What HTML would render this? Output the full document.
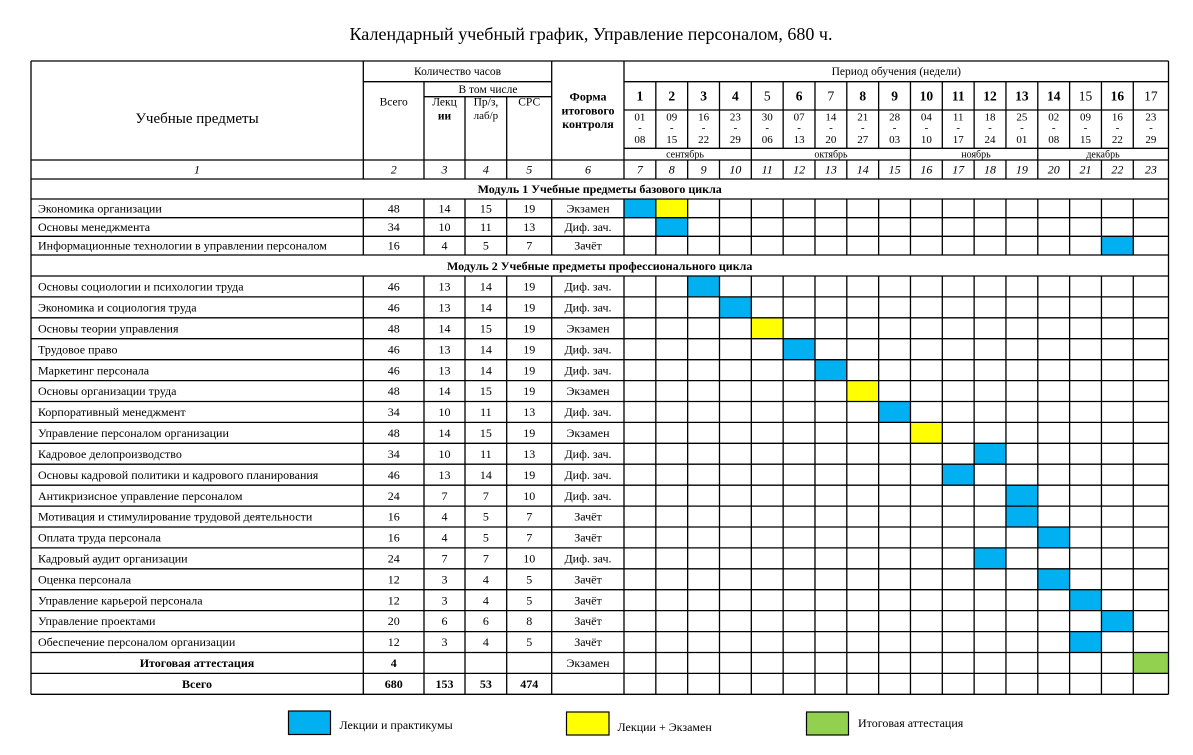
<!DOCTYPE html>
<html><head><meta charset="utf-8"><style>
html,body{margin:0;padding:0;background:#fff;width:1193px;height:755px;overflow:hidden}
svg{display:block}
text{font-family:"Liberation Serif","DejaVu Serif",serif;fill:#000}
.c{text-anchor:middle}
.s{font-size:12px}
.h{font-size:11.5px}
.b{font-weight:bold}
.i{font-style:italic}
.d{font-size:11px;text-anchor:middle}
.m{font-size:10px;text-anchor:middle}
.w{font-size:13.5px;text-anchor:middle;font-weight:bold}
.wn{font-size:13.5px;text-anchor:middle}
</style></head><body>
<svg width="1193" height="755" viewBox="0 0 1193 755" xmlns="http://www.w3.org/2000/svg">
<rect width="1193" height="755" fill="#fff"/>
<text x="591" y="40" class="c" style="font-size:18px" textLength="483" lengthAdjust="spacingAndGlyphs">Календарный учебный график, Управление персоналом, 680 ч.</text>

<g>
<rect x="624" y="199" width="31.83" height="18.7" fill="#00B0F0"/>
<rect x="655.83" y="199" width="31.83" height="18.7" fill="#FFFF00"/>
<rect x="655.83" y="217.7" width="31.83" height="18.6" fill="#00B0F0"/>
<rect x="1101.45" y="236.3" width="31.83" height="18.7" fill="#00B0F0"/>
<rect x="687.66" y="276" width="31.83" height="20.9" fill="#00B0F0"/>
<rect x="719.49" y="296.9" width="31.83" height="20.9" fill="#00B0F0"/>
<rect x="751.32" y="317.8" width="31.83" height="20.9" fill="#FFFF00"/>
<rect x="783.15" y="338.7" width="31.83" height="21" fill="#00B0F0"/>
<rect x="814.98" y="359.7" width="31.83" height="20.9" fill="#00B0F0"/>
<rect x="846.81" y="380.6" width="31.83" height="20.9" fill="#FFFF00"/>
<rect x="878.64" y="401.5" width="31.83" height="20.9" fill="#00B0F0"/>
<rect x="910.47" y="422.4" width="31.83" height="20.9" fill="#FFFF00"/>
<rect x="974.13" y="443.3" width="31.83" height="20.9" fill="#00B0F0"/>
<rect x="942.3" y="464.2" width="31.83" height="21" fill="#00B0F0"/>
<rect x="1005.96" y="485.2" width="31.83" height="20.9" fill="#00B0F0"/>
<rect x="1005.96" y="506.1" width="31.83" height="20.9" fill="#00B0F0"/>
<rect x="1037.79" y="527" width="31.83" height="20.9" fill="#00B0F0"/>
<rect x="974.13" y="547.9" width="31.83" height="20.9" fill="#00B0F0"/>
<rect x="1037.79" y="568.8" width="31.83" height="20.9" fill="#00B0F0"/>
<rect x="1069.62" y="589.7" width="31.83" height="20.9" fill="#00B0F0"/>
<rect x="1101.45" y="610.6" width="31.83" height="21" fill="#00B0F0"/>
<rect x="1069.62" y="631.6" width="31.83" height="20.9" fill="#00B0F0"/>
<rect x="1133.28" y="652.5" width="35.22" height="20.9" fill="#92D050"/>
</g>

<g stroke="#000" stroke-width="1.3" fill="none">
<path d="M31 61H1168.5 M363.3 81.7H551.7 M624 81.7H1168.5 M424 96.7H551.7 M624 110H1168.5 M624 148.3H1168.5 M31 160H1168.5 M31 179H1168.5 M31 199H1168.5 M31 217.7H1168.5 M31 236.3H1168.5 M31 255H1168.5 M31 276H1168.5 M31 296.9H1168.5 M31 317.8H1168.5 M31 338.7H1168.5 M31 359.7H1168.5 M31 380.6H1168.5 M31 401.5H1168.5 M31 422.4H1168.5 M31 443.3H1168.5 M31 464.2H1168.5 M31 485.2H1168.5 M31 506.1H1168.5 M31 527H1168.5 M31 547.9H1168.5 M31 568.8H1168.5 M31 589.7H1168.5 M31 610.6H1168.5 M31 631.6H1168.5 M31 652.5H1168.5 M31 673.4H1168.5 M31 694.3H1168.5"/>
<path d="M31 61V694.3 M1168.5 61V694.3"/>
<path d="M363.3 61V179 M424 81.7V179 M465 96.7V179 M506.7 96.7V179 M551.7 61V179 M624 61V179"/>
<path d="M655.83 81.7V148.3 M687.66 81.7V148.3 M719.49 81.7V148.3 M751.32 81.7V160 M783.15 81.7V148.3 M814.98 81.7V148.3 M846.81 81.7V148.3 M878.64 81.7V148.3 M910.47 81.7V160 M942.3 81.7V148.3 M974.13 81.7V148.3 M1005.96 81.7V148.3 M1037.79 81.7V160 M1069.62 81.7V148.3 M1101.45 81.7V148.3 M1133.28 81.7V148.3"/>
<path d="M655.83 160V179 M687.66 160V179 M719.49 160V179 M751.32 160V179 M783.15 160V179 M814.98 160V179 M846.81 160V179 M878.64 160V179 M910.47 160V179 M942.3 160V179 M974.13 160V179 M1005.96 160V179 M1037.79 160V179 M1069.62 160V179 M1101.45 160V179 M1133.28 160V179"/>
<path d="M363.3 199V255 M424 199V255 M465 199V255 M506.7 199V255 M551.7 199V255 M624 199V255 M655.83 199V255 M687.66 199V255 M719.49 199V255 M751.32 199V255 M783.15 199V255 M814.98 199V255 M846.81 199V255 M878.64 199V255 M910.47 199V255 M942.3 199V255 M974.13 199V255 M1005.96 199V255 M1037.79 199V255 M1069.62 199V255 M1101.45 199V255 M1133.28 199V255"/>
<path d="M363.3 276V694.3 M424 276V694.3 M465 276V694.3 M506.7 276V694.3 M551.7 276V694.3 M624 276V694.3 M655.83 276V694.3 M687.66 276V694.3 M719.49 276V694.3 M751.32 276V694.3 M783.15 276V694.3 M814.98 276V694.3 M846.81 276V694.3 M878.64 276V694.3 M910.47 276V694.3 M942.3 276V694.3 M974.13 276V694.3 M1005.96 276V694.3 M1037.79 276V694.3 M1069.62 276V694.3 M1101.45 276V694.3 M1133.28 276V694.3"/>
</g>

<text x="197" y="123" class="c" style="font-size:15px">Учебные предметы</text>
<text x="457.5" y="75" class="c h">Количество часов</text>
<text x="393.7" y="105.5" class="c h">Всего</text>
<text x="488" y="93" class="c h">В том числе</text>
<text x="444.5" y="105.5" class="c h">Лекц</text>
<text x="444.5" y="119.5" class="c h b">ии</text>
<text x="485.9" y="105.5" class="c h">Пр/з,</text>
<text x="485.9" y="119" class="c" style="font-size:11px">лаб/р</text>
<text x="529.2" y="105.5" class="c h">СРС</text>
<text x="588" y="100.5" class="c s b">Форма</text>
<text x="588" y="114.5" class="c s b">итогового</text>
<text x="588" y="128" class="c s b">контроля</text>
<text x="896.3" y="75" class="c h">Период обучения (недели)</text>

<text x="639.9" y="100.5" class="w">1</text>
<text x="671.7" y="100.5" class="w">2</text>
<text x="703.6" y="100.5" class="w">3</text>
<text x="735.4" y="100.5" class="w">4</text>
<text x="767.2" y="100.5" class="wn">5</text>
<text x="799.1" y="100.5" class="w">6</text>
<text x="830.9" y="100.5" class="wn">7</text>
<text x="862.7" y="100.5" class="w">8</text>
<text x="894.6" y="100.5" class="w">9</text>
<text x="926.4" y="100.5" class="w">10</text>
<text x="958.2" y="100.5" class="w">11</text>
<text x="990.0" y="100.5" class="w">12</text>
<text x="1021.9" y="100.5" class="w">13</text>
<text x="1053.7" y="100.5" class="w">14</text>
<text x="1085.5" y="100.5" class="wn">15</text>
<text x="1117.4" y="100.5" class="w">16</text>
<text x="1150.9" y="100.5" class="wn">17</text>

<g class="d">
<text x="639.9" y="120.5" class="d">01</text><text x="639.9" y="131" class="d">-</text><text x="639.9" y="143" class="d">08</text>
<text x="671.7" y="120.5" class="d">09</text><text x="671.7" y="131" class="d">-</text><text x="671.7" y="143" class="d">15</text>
<text x="703.6" y="120.5" class="d">16</text><text x="703.6" y="131" class="d">-</text><text x="703.6" y="143" class="d">22</text>
<text x="735.4" y="120.5" class="d">23</text><text x="735.4" y="131" class="d">-</text><text x="735.4" y="143" class="d">29</text>
<text x="767.2" y="120.5" class="d">30</text><text x="767.2" y="131" class="d">-</text><text x="767.2" y="143" class="d">06</text>
<text x="799.1" y="120.5" class="d">07</text><text x="799.1" y="131" class="d">-</text><text x="799.1" y="143" class="d">13</text>
<text x="830.9" y="120.5" class="d">14</text><text x="830.9" y="131" class="d">-</text><text x="830.9" y="143" class="d">20</text>
<text x="862.7" y="120.5" class="d">21</text><text x="862.7" y="131" class="d">-</text><text x="862.7" y="143" class="d">27</text>
<text x="894.6" y="120.5" class="d">28</text><text x="894.6" y="131" class="d">-</text><text x="894.6" y="143" class="d">03</text>
<text x="926.4" y="120.5" class="d">04</text><text x="926.4" y="131" class="d">-</text><text x="926.4" y="143" class="d">10</text>
<text x="958.2" y="120.5" class="d">11</text><text x="958.2" y="131" class="d">-</text><text x="958.2" y="143" class="d">17</text>
<text x="990.0" y="120.5" class="d">18</text><text x="990.0" y="131" class="d">-</text><text x="990.0" y="143" class="d">24</text>
<text x="1021.9" y="120.5" class="d">25</text><text x="1021.9" y="131" class="d">-</text><text x="1021.9" y="143" class="d">01</text>
<text x="1053.7" y="120.5" class="d">02</text><text x="1053.7" y="131" class="d">-</text><text x="1053.7" y="143" class="d">08</text>
<text x="1085.5" y="120.5" class="d">09</text><text x="1085.5" y="131" class="d">-</text><text x="1085.5" y="143" class="d">15</text>
<text x="1117.4" y="120.5" class="d">16</text><text x="1117.4" y="131" class="d">-</text><text x="1117.4" y="143" class="d">22</text>
<text x="1150.9" y="120.5" class="d">23</text><text x="1150.9" y="131" class="d">-</text><text x="1150.9" y="143" class="d">29</text>
</g>

<text x="685" y="157.5" class="m">сентябрь</text>
<text x="831" y="157.5" class="m">октябрь</text>
<text x="976" y="157.5" class="m">ноябрь</text>
<text x="1103" y="157.5" class="m">декабрь</text>

<g>
<text x="197" y="173.5" class="c s i">1</text>
<text x="393.7" y="173.5" class="c s i">2</text>
<text x="444.5" y="173.5" class="c s i">3</text>
<text x="485.9" y="173.5" class="c s i">4</text>
<text x="529.2" y="173.5" class="c s i">5</text>
<text x="588" y="173.5" class="c s i">6</text>
<text x="639.9" y="173.5" class="c s i">7</text>
<text x="671.7" y="173.5" class="c s i">8</text>
<text x="703.6" y="173.5" class="c s i">9</text>
<text x="735.4" y="173.5" class="c s i">10</text>
<text x="767.2" y="173.5" class="c s i">11</text>
<text x="799.1" y="173.5" class="c s i">12</text>
<text x="830.9" y="173.5" class="c s i">13</text>
<text x="862.7" y="173.5" class="c s i">14</text>
<text x="894.6" y="173.5" class="c s i">15</text>
<text x="926.4" y="173.5" class="c s i">16</text>
<text x="958.2" y="173.5" class="c s i">17</text>
<text x="990.0" y="173.5" class="c s i">18</text>
<text x="1021.9" y="173.5" class="c s i">19</text>
<text x="1053.7" y="173.5" class="c s i">20</text>
<text x="1085.5" y="173.5" class="c s i">21</text>
<text x="1117.4" y="173.5" class="c s i">22</text>
<text x="1150.9" y="173.5" class="c s i">23</text>
</g>

<text x="599.7" y="193" class="c s b">Модуль 1 Учебные предметы базового цикла</text>
<text x="599.7" y="270" class="c s b">Модуль 2 Учебные предметы профессионального цикла</text>

<g class="s">
<text x="38" y="212.5" class="s">Экономика организации</text>
<text x="393.7" y="212.5" class="c s">48</text><text x="444.5" y="212.5" class="c s">14</text><text x="485.9" y="212.5" class="c s">15</text><text x="529.2" y="212.5" class="c s">19</text><text x="588" y="212.5" class="c s">Экзамен</text>

<text x="38" y="231" class="s">Основы менеджмента</text>
<text x="393.7" y="231" class="c s">34</text><text x="444.5" y="231" class="c s">10</text><text x="485.9" y="231" class="c s">11</text><text x="529.2" y="231" class="c s">13</text><text x="588" y="231" class="c s">Диф. зач.</text>

<text x="38" y="249.5" class="s">Информационные технологии в управлении персоналом</text>
<text x="393.7" y="249.5" class="c s">16</text><text x="444.5" y="249.5" class="c s">4</text><text x="485.9" y="249.5" class="c s">5</text><text x="529.2" y="249.5" class="c s">7</text><text x="588" y="249.5" class="c s">Зачёт</text>
</g>

<g class="s">
<text x="38" y="290.6" class="s">Основы социологии и психологии труда</text>
<text x="393.7" y="290.6" class="c s">46</text><text x="444.5" y="290.6" class="c s">13</text><text x="485.9" y="290.6" class="c s">14</text><text x="529.2" y="290.6" class="c s">19</text><text x="588" y="290.6" class="c s">Диф. зач.</text>

<text x="38" y="311.5" class="s">Экономика и социология труда</text>
<text x="393.7" y="311.5" class="c s">46</text><text x="444.5" y="311.5" class="c s">13</text><text x="485.9" y="311.5" class="c s">14</text><text x="529.2" y="311.5" class="c s">19</text><text x="588" y="311.5" class="c s">Диф. зач.</text>

<text x="38" y="332.4" class="s">Основы теории управления</text>
<text x="393.7" y="332.4" class="c s">48</text><text x="444.5" y="332.4" class="c s">14</text><text x="485.9" y="332.4" class="c s">15</text><text x="529.2" y="332.4" class="c s">19</text><text x="588" y="332.4" class="c s">Экзамен</text>

<text x="38" y="353.3" class="s">Трудовое право</text>
<text x="393.7" y="353.3" class="c s">46</text><text x="444.5" y="353.3" class="c s">13</text><text x="485.9" y="353.3" class="c s">14</text><text x="529.2" y="353.3" class="c s">19</text><text x="588" y="353.3" class="c s">Диф. зач.</text>

<text x="38" y="374.3" class="s">Маркетинг персонала</text>
<text x="393.7" y="374.3" class="c s">46</text><text x="444.5" y="374.3" class="c s">13</text><text x="485.9" y="374.3" class="c s">14</text><text x="529.2" y="374.3" class="c s">19</text><text x="588" y="374.3" class="c s">Диф. зач.</text>

<text x="38" y="395.2" class="s">Основы организации труда</text>
<text x="393.7" y="395.2" class="c s">48</text><text x="444.5" y="395.2" class="c s">14</text><text x="485.9" y="395.2" class="c s">15</text><text x="529.2" y="395.2" class="c s">19</text><text x="588" y="395.2" class="c s">Экзамен</text>

<text x="38" y="416.1" class="s">Корпоративный менеджмент</text>
<text x="393.7" y="416.1" class="c s">34</text><text x="444.5" y="416.1" class="c s">10</text><text x="485.9" y="416.1" class="c s">11</text><text x="529.2" y="416.1" class="c s">13</text><text x="588" y="416.1" class="c s">Диф. зач.</text>

<text x="38" y="437" class="s">Управление персоналом организации</text>
<text x="393.7" y="437" class="c s">48</text><text x="444.5" y="437" class="c s">14</text><text x="485.9" y="437" class="c s">15</text><text x="529.2" y="437" class="c s">19</text><text x="588" y="437" class="c s">Экзамен</text>

<text x="38" y="457.9" class="s">Кадровое делопроизводство</text>
<text x="393.7" y="457.9" class="c s">34</text><text x="444.5" y="457.9" class="c s">10</text><text x="485.9" y="457.9" class="c s">11</text><text x="529.2" y="457.9" class="c s">13</text><text x="588" y="457.9" class="c s">Диф. зач.</text>

<text x="38" y="478.8" class="s">Основы кадровой политики и кадрового планирования</text>
<text x="393.7" y="478.8" class="c s">46</text><text x="444.5" y="478.8" class="c s">13</text><text x="485.9" y="478.8" class="c s">14</text><text x="529.2" y="478.8" class="c s">19</text><text x="588" y="478.8" class="c s">Диф. зач.</text>

<text x="38" y="499.8" class="s">Антикризисное управление персоналом</text>
<text x="393.7" y="499.8" class="c s">24</text><text x="444.5" y="499.8" class="c s">7</text><text x="485.9" y="499.8" class="c s">7</text><text x="529.2" y="499.8" class="c s">10</text><text x="588" y="499.8" class="c s">Диф. зач.</text>

<text x="38" y="520.7" class="s">Мотивация и стимулирование трудовой деятельности</text>
<text x="393.7" y="520.7" class="c s">16</text><text x="444.5" y="520.7" class="c s">4</text><text x="485.9" y="520.7" class="c s">5</text><text x="529.2" y="520.7" class="c s">7</text><text x="588" y="520.7" class="c s">Зачёт</text>

<text x="38" y="541.6" class="s">Оплата труда персонала</text>
<text x="393.7" y="541.6" class="c s">16</text><text x="444.5" y="541.6" class="c s">4</text><text x="485.9" y="541.6" class="c s">5</text><text x="529.2" y="541.6" class="c s">7</text><text x="588" y="541.6" class="c s">Зачёт</text>

<text x="38" y="562.5" class="s">Кадровый аудит организации</text>
<text x="393.7" y="562.5" class="c s">24</text><text x="444.5" y="562.5" class="c s">7</text><text x="485.9" y="562.5" class="c s">7</text><text x="529.2" y="562.5" class="c s">10</text><text x="588" y="562.5" class="c s">Диф. зач.</text>

<text x="38" y="583.4" class="s">Оценка персонала</text>
<text x="393.7" y="583.4" class="c s">12</text><text x="444.5" y="583.4" class="c s">3</text><text x="485.9" y="583.4" class="c s">4</text><text x="529.2" y="583.4" class="c s">5</text><text x="588" y="583.4" class="c s">Зачёт</text>

<text x="38" y="604.3" class="s">Управление карьерой персонала</text>
<text x="393.7" y="604.3" class="c s">12</text><text x="444.5" y="604.3" class="c s">3</text><text x="485.9" y="604.3" class="c s">4</text><text x="529.2" y="604.3" class="c s">5</text><text x="588" y="604.3" class="c s">Зачёт</text>

<text x="38" y="625.2" class="s">Управление проектами</text>
<text x="393.7" y="625.2" class="c s">20</text><text x="444.5" y="625.2" class="c s">6</text><text x="485.9" y="625.2" class="c s">6</text><text x="529.2" y="625.2" class="c s">8</text><text x="588" y="625.2" class="c s">Зачёт</text>

<text x="38" y="646.2" class="s">Обеспечение персоналом организации</text>
<text x="393.7" y="646.2" class="c s">12</text><text x="444.5" y="646.2" class="c s">3</text><text x="485.9" y="646.2" class="c s">4</text><text x="529.2" y="646.2" class="c s">5</text><text x="588" y="646.2" class="c s">Зачёт</text>

<text x="197" y="667.1" class="c s b">Итоговая аттестация</text>
<text x="393.7" y="667.1" class="c s b">4</text><text x="588" y="667.1" class="c s">Экзамен</text>

<text x="197" y="688" class="c s b">Всего</text>
<text x="393.7" y="688" class="c s b">680</text><text x="444.5" y="688" class="c s b">153</text><text x="485.9" y="688" class="c s b">53</text><text x="529.2" y="688" class="c s b">474</text>
</g>

<rect x="288.5" y="711" width="42" height="23.5" fill="#00B0F0" stroke="#000" stroke-width="1.2"/>
<text x="339.5" y="729" class="s">Лекции и практикумы</text>
<rect x="566.5" y="712" width="42.5" height="23" fill="#FFFF00" stroke="#000" stroke-width="1.2"/>
<text x="617.5" y="731" class="s">Лекции + Экзамен</text>
<rect x="806.5" y="712" width="42" height="23" fill="#92D050" stroke="#000" stroke-width="1.2"/>
<text x="858" y="727" class="s">Итоговая аттестация</text>
</svg>
</body></html>
